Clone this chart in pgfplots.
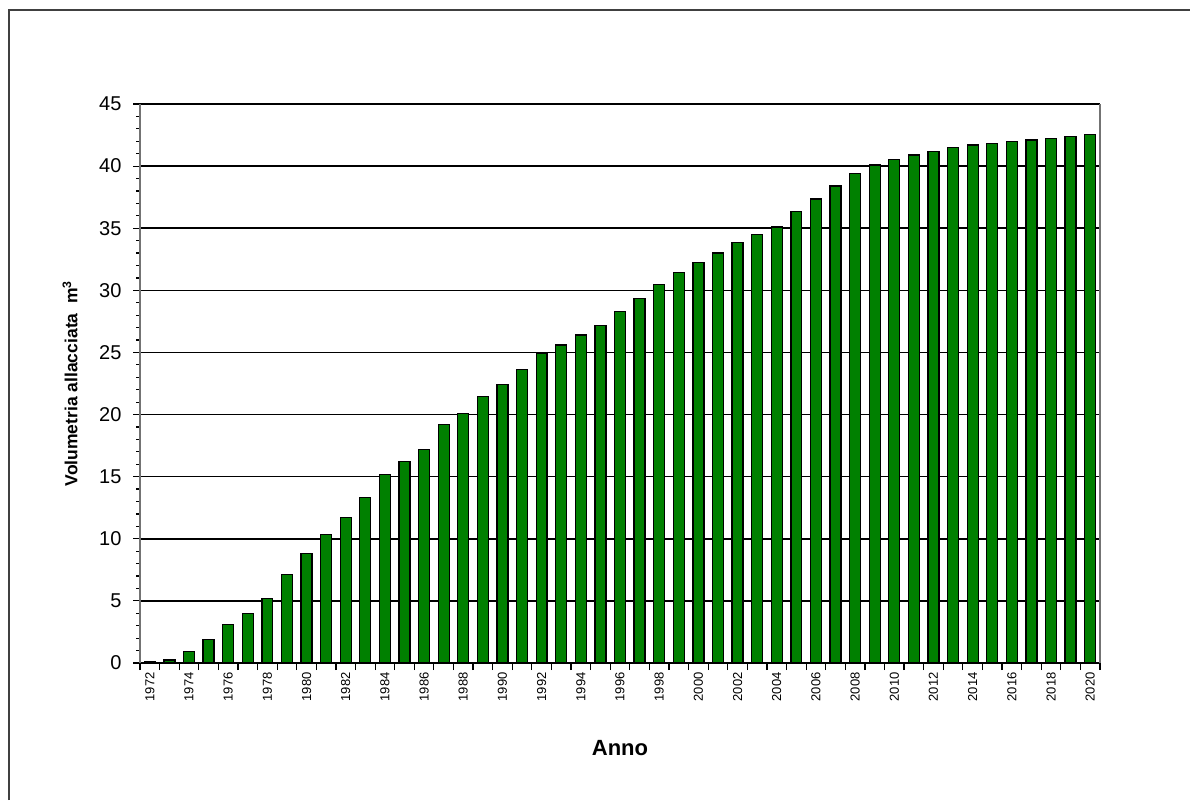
\documentclass[border=0pt]{standalone}
\usepackage{fontspec}
\setmainfont{Liberation Sans}
\usepackage{pgfplots}
\pgfplotsset{compat=1.18}
\definecolor{barGreen}{RGB}{0,128,0}

\pgfplotstableread{
anno vol
1972 0.1
1973 0.25
1974 0.9
1975 1.9
1976 3.1
1977 4.0
1978 5.2
1979 7.1
1980 8.8
1981 10.35
1982 11.7
1983 13.3
1984 15.2
1985 16.2
1986 17.2
1987 19.2
1988 20.1
1989 21.45
1990 22.4
1991 23.6
1992 24.9
1993 25.6
1994 26.4
1995 27.15
1996 28.3
1997 29.35
1998 30.45
1999 31.45
2000 32.25
2001 33.0
2002 33.85
2003 34.5
2004 35.1
2005 36.35
2006 37.35
2007 38.4
2008 39.4
2009 40.1
2010 40.55
2011 40.9
2012 41.2
2013 41.5
2014 41.7
2015 41.8
2016 42.0
2017 42.1
2018 42.2
2019 42.4
2020 42.55
}\voldata

\begin{document}
\begin{tikzpicture}[x=1pt,y=1pt]
\useasboundingbox (0,0) rectangle (1190,800);
\fill[white] (0,0) rectangle (1190,800);
% cornice esterna (solo lati visibili)
\draw[line width=2pt, black!75] (8.5,0) -- (8.5,790) -- (1190,790);
\begin{axis}[
  at={(140pt,137pt)}, anchor=south west,
  scale only axis, width=960pt, height=559pt,
  xmin=1971.5, xmax=2020.5, ymin=0, ymax=45,
  ybar, bar width=0.56,
  x axis line style={black, line width=1.5pt},
  y axis line style={black!55, line width=1.5pt},
  separate axis lines,
  tick align=outside, tick pos=left,
  major tick length=7pt, minor tick length=4pt,
  tick style={black, line width=1.2pt},
  ytick={0,5,...,45}, minor y tick num=4,
  ymajorgrids, grid style={black, line width=1.6pt},
  xtick={1971.5,1972.5,...,2020.5}, xticklabels={},
  extra x ticks={1972,1974,...,2020},
  extra x tick labels={1972,1974,1976,1978,1980,1982,1984,1986,1988,1990,1992,1994,1996,1998,2000,2002,2004,2006,2008,2010,2012,2014,2016,2018,2020},
  extra x tick style={major tick length=0pt, grid=none},
  /pgf/number format/assume math mode=true,
  yticklabel style={font=\fontsize{20}{24}\selectfont, xshift=-8pt},
  xticklabel style={font=\fontsize{13}{15}\selectfont, yshift=-6pt, rotate=90, anchor=east},
  xlabel={Anno},
  ylabel={Volumetria allacciata\ \ m\textsuperscript{3}},
  every axis x label/.style={at={(rel axis cs:0.5,0)}, anchor=center, yshift=-85pt, font=\fontsize{22}{26}\selectfont\bfseries},
  every axis y label/.style={at={(rel axis cs:0,0.5)}, anchor=center, xshift=-70pt, rotate=90, font=\fontsize{17.5}{20}\selectfont\bfseries},
]
\addplot[fill=barGreen, draw=black, line width=1.3pt] table[x=anno, y=vol] {\voldata};
\end{axis}
\end{tikzpicture}
\end{document}
